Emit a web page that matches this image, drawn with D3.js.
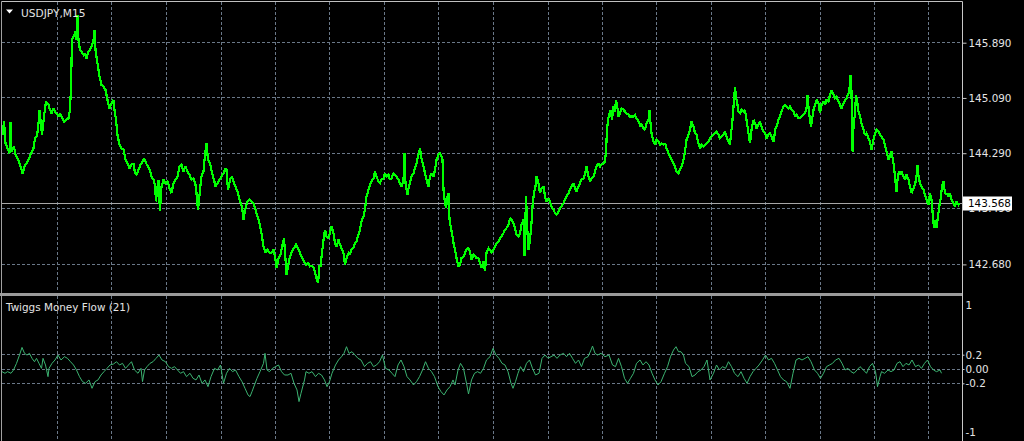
<!DOCTYPE html>
<html><head><meta charset="utf-8">
<script src="https://cdn.jsdelivr.net/npm/d3@7"></script>
<style>html,body{margin:0;padding:0;background:#000;overflow:hidden}</style>
</head><body><svg id="c" width="1024" height="441"></svg>
<script>
const symbolTitle = "USDJPY,M15";
const indicatorTitle = "Twiggs Money Flow (21)";
const priceTicks = [145.890, 145.090, 144.290, 143.490, 142.680];
const lastPrice = 143.568;
const tmfGridLevels = [0.2, 0, -0.2];
const tmfTickValues = [1, 0.2, 0, -0.2, -1];
const tmfTickLabels = ["1", "0.2", "0.00", "-0.2", "-1"];
const timeGridBars = [115, 223, 333, 442, 551, 659, 769, 877, 987, 1096, 1205, 1313, 1422, 1531, 1640, 1749, 1857];

// [bar (half-pixel M15 units), close]
const priceSeg1 = [[5,144.555],[8,144.748],[11,144.435],[15,144.363],[19,144.290],[21,144.748],[23,144.315],[28,144.387],[31,144.266],[35,144.218],[39,144.146],[43,144.049],[45,143.992],[49,144.098],[53,144.146],[57,144.194],[61,144.266],[67,144.363],[70,144.507],[73,144.531],[76,144.628],[79,144.917],[81,144.772],[84,144.555],[88,144.821],[92,145.037],[97,144.989],[100,144.917],[103,144.869],[107,144.941],[110,144.893],[113,144.869],[117,144.821],[120,144.869],[123,144.821],[128,144.748],[132,144.772],[137,144.796],[140,144.917],[142,145.254],[144,145.929],[147,145.977],[151,146.049],[153,145.929],[155,146.290],[157,145.929],[160,145.784],[163,145.760],[167,145.712],[170,145.736],[173,145.664],[177,145.760],[180,145.784],[184,145.857],[187,145.929],[189,146.073],[191,145.784],[195,145.592],[199,145.399],[203,145.278],[207,145.254],[211,145.206],[215,145.061],[219,144.941],[223,145.013],[227,145.061],[229,144.917],[232,144.772],[235,144.555],[239,144.411],[243,144.363],[247,144.339],[251,144.194],[255,144.146],[259,144.074],[263,144.122],[267,144.146],[270,144.001],[273,143.977],[277,144.049],[281,144.122],[285,144.170],[288,144.218],[292,144.146],[296,144.098],[300,144.049],[303,143.953],[307,143.905],[310,143.833],[312,143.592],[315,143.809],[317,143.905],[320,143.447],[323,143.809],[327,143.905],[331,143.857],[335,143.881],[339,143.784],[343,143.712],[347,143.857],[351,143.905],[355,143.953],[359,144.098],[363,144.122],[367,144.025],[371,144.098],[375,144.025],[379,143.977],[383,143.905],[387,143.929],[391,143.833],[393,143.712],[396,143.471],[399,143.688],[403,143.953],[407,144.025],[409,144.194],[412,144.387],[413,144.435],[416,144.194],[420,144.146],[424,144.001],[428,143.905],[431,143.809],[435,143.857],[439,143.905],[443,143.953],[447,144.001],[451,144.074],[453,144.049],[456,143.760],[460,143.905],[464,143.953],[468,143.857],[472,143.784],[476,143.712],[480,143.592],[484,143.519],[487,143.327],[491,143.495],[495,143.592],[499,143.616],[503,143.592],[507,143.568],[511,143.471],[515,143.375],[519,143.278],[523,143.134],[527,142.941],[531,142.845],[535,142.893],[539,142.845],[543,142.845],[547,142.893],[551,142.748],[553,142.628],[557,142.772],[561,142.821],[565,142.965],[568,143.062],[571,142.748],[573,142.531],[576,142.652],[580,142.796],[584,142.869],[588,142.917],[592,142.965],[596,142.917],[600,142.845],[604,142.772],[608,142.724],[612,142.676],[616,142.700],[620,142.652],[624,142.662],[628,142.628],[632,142.507],[636,142.410],[639,142.652]];
const priceSeg2 = [[641,142.652],[644,142.845],[647,143.037],[650,143.182],[653,143.086],[657,143.062],[660,143.134],[663,143.230],[667,143.134],[670,142.989],[673,142.941],[677,143.037],[680,142.965],[683,142.917],[687,142.845],[690,142.676],[693,142.772],[697,142.845],[700,142.821],[703,142.893],[707,142.917],[710,142.989],[713,143.013],[717,143.110],[720,143.182],[723,143.302],[727,143.375],[730,143.471],[733,143.664],[737,143.760],[740,143.833],[743,143.881],[747,143.929],[750,144.025],[753,143.953],[757,143.881],[760,143.857],[763,143.905],[767,143.929],[770,144.001],[773,143.953],[777,143.977],[780,143.905],[783,143.929],[787,144.001],[790,143.977],[793,143.953],[797,143.905],[800,143.857],[803,143.809],[807,143.905],[809,144.290],[811,143.857],[815,143.688],[817,143.784],[820,143.857],[823,143.953],[827,144.001],[830,144.074],[833,144.146],[837,144.266],[840,144.363],[843,144.218],[847,144.098],[850,144.001],[853,143.905],[857,143.809],[860,143.953],[863,144.001],[867,143.953],[870,144.049],[873,144.194],[877,144.266],[880,144.290],[883,144.242],[885,144.194],[887,143.760],[890,143.568],[892,143.495],[895,143.664],[897,143.712],[899,143.327],[902,143.206],[905,143.086],[907,142.989],[910,142.893],[913,142.772],[917,142.652],[920,142.676],[923,142.772],[927,142.796],[930,142.845],[933,142.893],[937,142.917],[940,142.869],[943,142.748],[947,142.821],[950,142.796],[953,142.772],[957,142.772],[960,142.700],[963,142.628],[967,142.724],[970,142.580],[973,142.845],[977,142.917],[980,142.893],[983,142.845],[987,142.893],[990,142.941],[993,142.989],[997,143.013],[1000,143.062],[1003,143.086],[1007,143.134],[1010,143.182],[1013,143.206],[1017,143.254],[1020,143.351],[1023,143.327],[1027,143.278],[1030,143.206],[1033,143.110],[1037,143.086],[1040,143.134],[1043,143.254],[1047,143.327],[1049,142.796],[1052,143.664],[1055,143.134],[1057,142.893],[1060,143.037],[1063,143.278],[1065,143.519],[1068,143.712],[1071,143.809],[1073,143.953],[1077,143.857],[1080,143.712],[1083,143.784],[1087,143.809],[1090,143.664],[1093,143.592],[1097,143.640],[1100,143.592],[1103,143.519],[1107,143.471],[1110,143.423],[1113,143.399],[1117,143.447],[1120,143.495],[1123,143.519],[1127,143.568],[1130,143.616],[1133,143.664],[1137,143.712],[1140,143.760],[1143,143.809],[1147,143.857],[1150,143.784],[1153,143.736],[1157,143.809],[1160,143.857],[1163,143.905],[1167,143.929],[1170,143.977],[1173,144.098],[1177,143.953],[1180,143.881],[1183,143.929],[1187,143.953],[1190,144.025],[1193,144.098],[1197,144.146],[1200,144.098],[1203,144.122],[1207,144.146],[1210,144.170],[1212,144.315],[1214,144.628],[1216,144.772],[1219,144.869],[1221,144.917],[1224,144.772],[1227,144.965],[1230,144.893],[1232,145.061],[1235,144.941],[1237,144.821],[1240,144.869],[1243,144.941],[1247,144.917],[1250,144.893],[1253,144.869],[1257,144.845],[1260,144.821],[1263,144.821],[1267,144.821],[1270,144.845],[1273,144.796],[1277,144.748],[1279,144.724]];
const priceSeg3 = [[1280,144.676],[1283,144.700],[1287,144.652],[1290,144.628],[1293,144.724],[1297,144.772],[1299,144.917],[1301,144.724],[1303,144.580],[1307,144.459],[1310,144.411],[1313,144.483],[1317,144.459],[1320,144.411],[1323,144.435],[1327,144.411],[1330,144.435],[1333,144.363],[1337,144.290],[1340,144.242],[1343,144.194],[1347,144.146],[1350,144.098],[1353,144.025],[1357,144.001],[1360,144.049],[1363,144.098],[1367,144.194],[1370,144.315],[1373,144.483],[1377,144.555],[1380,144.628],[1383,144.748],[1387,144.676],[1390,144.580],[1393,144.555],[1397,144.435],[1400,144.363],[1403,144.411],[1407,144.387],[1410,144.411],[1413,144.435],[1417,144.459],[1420,144.507],[1423,144.531],[1427,144.555],[1430,144.580],[1433,144.604],[1437,144.555],[1440,144.507],[1443,144.531],[1447,144.555],[1450,144.604],[1453,144.531],[1457,144.459],[1460,144.411],[1462,144.580],[1464,144.676],[1467,144.965],[1470,145.254],[1472,145.110],[1475,144.989],[1477,144.893],[1480,144.869],[1483,144.917],[1487,144.893],[1490,144.917],[1493,144.772],[1497,144.580],[1500,144.435],[1503,144.628],[1507,144.772],[1510,144.724],[1513,144.652],[1517,144.700],[1520,144.748],[1523,144.676],[1527,144.604],[1530,144.580],[1533,144.507],[1537,144.555],[1540,144.580],[1543,144.531],[1547,144.459],[1549,144.555],[1551,144.652],[1553,144.676],[1557,144.772],[1560,144.821],[1563,144.893],[1567,144.965],[1570,144.989],[1573,144.965],[1577,144.941],[1580,144.965],[1583,144.917],[1587,144.893],[1590,144.821],[1593,144.845],[1597,144.796],[1600,144.796],[1603,144.821],[1607,144.845],[1610,144.869],[1613,144.941],[1615,145.134],[1617,144.965],[1620,144.772],[1622,144.676],[1625,144.821],[1627,144.917],[1630,144.989],[1633,145.061],[1637,145.013],[1640,144.869],[1643,144.989],[1647,145.037],[1650,144.989],[1653,145.061],[1657,145.037],[1660,145.134],[1663,145.206],[1667,145.134],[1670,145.086],[1673,145.110],[1677,145.037],[1680,144.989],[1683,144.941],[1687,145.013],[1690,145.061],[1693,145.086],[1697,145.158],[1699,145.230],[1701,145.423],[1703,145.182],[1705,144.315],[1707,144.676],[1710,144.869],[1712,145.134],[1715,145.013],[1717,144.893],[1720,144.821],[1723,144.724],[1727,144.628],[1730,144.555],[1733,144.580],[1737,144.507],[1740,144.459],[1743,144.339],[1747,144.483],[1750,144.580],[1753,144.628],[1757,144.604],[1760,144.555],[1763,144.531],[1767,144.483],[1770,144.411],[1773,144.315],[1777,144.194],[1780,144.242],[1783,144.315],[1787,144.146],[1790,143.953],[1793,143.736],[1795,143.905],[1798,144.025],[1801,143.977],[1803,144.025],[1807,143.953],[1810,143.905],[1813,143.977],[1817,143.905],[1820,143.809],[1823,143.712],[1827,143.784],[1830,143.833],[1833,143.953],[1835,144.122],[1837,143.953],[1840,143.857],[1843,143.809],[1847,143.760],[1850,143.688],[1853,143.616],[1857,143.543],[1860,143.712],[1863,143.616],[1865,143.447],[1868,143.206],[1871,143.327],[1873,143.206],[1876,143.375],[1879,143.543],[1881,143.616],[1884,143.809],[1887,143.881],[1889,143.760],[1892,143.688],[1895,143.712],[1897,143.664],[1900,143.712],[1903,143.616],[1907,143.568],[1910,143.519],[1913,143.592],[1917,143.543],[1919,143.568]];

// [bar, Twiggs Money Flow value]
const tmfSeg1 = [[4,-0.037],[10,-0.060],[15,-0.037],[22,-0.060],[27,-0.014],[33,0.079],[39,0.195],[44,0.302],[49,0.219],[54,0.195],[59,0.219],[64,0.149],[69,0.102],[73,0.149],[78,0.079],[83,0.009],[86,0.149],[91,0.056],[96,-0.107],[98,0.009],[104,0.079],[110,0.126],[116,0.195],[122,0.126],[129,0.172],[135,0.149],[141,0.102],[147,0.056],[153,-0.014],[159,-0.107],[165,-0.177],[171,-0.200],[178,-0.153],[184,-0.270],[190,-0.177],[196,-0.153],[202,-0.084],[208,-0.037],[214,0.009],[220,0.056],[227,0.070],[233,0.102],[239,0.056],[245,0.079],[251,0.009],[257,0.056],[263,0.102],[269,-0.014],[276,-0.060],[282,0.009],[285,-0.177],[289,-0.014],[294,0.033],[300,0.079],[306,0.102],[312,0.149],[318,0.195],[324,0.126],[331,0.102],[337,0.033],[343,0.009],[349,0.033],[355,-0.014],[361,-0.060],[367,-0.037],[373,-0.107],[380,-0.060],[386,-0.130],[392,-0.153],[398,-0.084],[404,-0.200],[410,-0.153],[416,-0.247],[422,-0.107],[429,0.009],[435,-0.014],[441,0.056],[447,-0.200],[453,-0.060],[459,0.009],[465,-0.037],[471,-0.014],[478,-0.107],[484,-0.177],[490,-0.270],[496,-0.363],[500,-0.386],[504,-0.316],[509,-0.223],[514,-0.130],[520,-0.037],[527,0.079],[530,0.219],[534,-0.014],[539,-0.037],[545,0.009],[551,0.033],[557,0.056],[563,-0.037],[569,-0.084],[576,-0.084],[582,-0.060],[588,-0.200],[594,-0.293],[598,-0.456],[602,-0.340],[609,-0.153],[612,-0.037],[618,-0.060],[624,-0.037],[631,-0.107],[637,-0.060],[643,-0.084],[649,-0.153],[654,-0.247],[659,-0.177],[664,-0.060],[671,0.056],[677,0.126],[683,0.172],[688,0.219],[693,0.312],[698,0.219],[704,0.242],[710,0.195],[716,0.149],[722,0.126],[729,0.033],[735,0.079],[741,0.102],[747,0.033],[753,0.056],[759,0.102],[765,0.195],[771,0.009],[778,-0.014],[784,-0.060],[790,-0.107],[796,0.056],[802,0.126],[808,0.033],[814,-0.107],[820,-0.153],[827,-0.223],[833,-0.177],[839,-0.107],[845,-0.014],[851,0.102],[857,0.009],[863,-0.037],[869,-0.107],[876,-0.247],[882,-0.316],[888,-0.363],[894,-0.293],[900,-0.247],[906,-0.153],[910,-0.223],[916,-0.014],[921,0.079],[927,0.009],[933,-0.200],[937,-0.349],[943,-0.153],[949,-0.060]];
const tmfSeg2 = [[955,-0.037],[961,-0.060],[967,0.009],[973,0.126],[980,0.172],[986,0.288],[992,0.195],[998,0.149],[1004,0.079],[1010,0.056],[1016,-0.037],[1022,-0.200],[1026,-0.270],[1031,-0.177],[1036,-0.060],[1041,0.033],[1047,-0.037],[1053,0.079],[1059,0.126],[1065,0.009],[1071,-0.084],[1078,-0.060],[1084,0.149],[1090,0.195],[1096,0.149],[1102,0.172],[1108,0.195],[1114,0.149],[1120,0.195],[1127,0.219],[1133,0.172],[1139,0.219],[1145,0.149],[1151,0.079],[1157,0.126],[1163,0.033],[1169,0.149],[1176,0.172],[1182,0.265],[1185,0.321],[1190,0.219],[1195,0.195],[1202,0.219],[1210,0.172],[1218,0.195],[1225,0.056],[1231,0.033],[1237,0.149],[1243,0.033],[1249,-0.130],[1255,-0.200],[1261,-0.130],[1267,-0.060],[1273,0.079],[1280,0.126],[1286,0.056],[1292,0.102],[1298,0.056],[1304,-0.060],[1310,-0.153],[1316,-0.223],[1322,-0.177],[1329,-0.060],[1335,0.033],[1341,0.172],[1347,0.265],[1352,0.312],[1357,0.242],[1362,0.242],[1367,0.195],[1371,0.079],[1378,0.033],[1384,-0.107],[1390,-0.084],[1396,-0.037],[1402,-0.014],[1408,0.033],[1414,0.126],[1420,-0.153],[1427,-0.060],[1433,0.056],[1439,-0.014],[1445,0.033],[1451,0.009],[1457,0.102],[1463,0.033],[1469,-0.060],[1476,-0.107],[1482,-0.037],[1488,-0.130],[1494,-0.200],[1500,-0.107],[1506,-0.037],[1512,0.009],[1518,0.056],[1525,0.126],[1531,0.195],[1537,0.126],[1543,0.149],[1549,0.079],[1555,-0.014],[1561,-0.107],[1567,-0.153],[1573,-0.177],[1580,-0.270],[1586,-0.060],[1592,0.126],[1598,0.149],[1604,0.126],[1610,0.149],[1616,0.172],[1622,0.102],[1629,-0.014],[1635,-0.060],[1641,-0.130],[1647,-0.060],[1653,0.033],[1659,0.056],[1665,0.079],[1671,0.126],[1678,0.149],[1684,0.079],[1690,-0.014],[1696,0.009],[1702,-0.037],[1708,-0.060],[1714,-0.014],[1720,0.033],[1727,-0.014],[1733,-0.060],[1739,0.033],[1745,0.079],[1751,-0.037],[1755,-0.247],[1760,-0.107],[1763,-0.037],[1769,-0.060],[1776,-0.014],[1782,-0.037],[1788,-0.014],[1794,0.079],[1800,0.102],[1806,0.033],[1812,0.079],[1818,0.056],[1824,0.126],[1831,0.033],[1837,0.056],[1843,0.009],[1849,0.079],[1855,0.126],[1861,0.033],[1867,-0.014],[1873,-0.037],[1880,-0.014],[1883,-0.060]];

const W = 1024, H = 441;
const plotL = 2, plotR = 962;
const mainTop = 2, mainBot = 292;
const subTop = 296, subBot = 441;
const FONT = "'DejaVu Sans', Verdana, sans-serif";
const TXT = "#e4e4e4";
const GRID = "#6a7888";

const svg = d3.select("#c");
svg.append("rect").attr("width", W).attr("height", H).attr("fill", "#000");

const x = d3.scaleLinear().domain([0, 1920]).range([0, 960]);
const yP = d3.scaleLinear().domain([142.68, 145.89]).range([264.4, 42.7]);
const yT = d3.scaleLinear().domain([-0.2, 0.2]).range([383.3, 354.7]);
const crisp = v => Math.floor(v) + 0.5;

const defs = svg.append("defs");
defs.append("clipPath").attr("id", "clipMain").append("rect")
  .attr("x", plotL).attr("y", mainTop).attr("width", plotR - plotL).attr("height", mainBot - mainTop);
defs.append("clipPath").attr("id", "clipSub").append("rect")
  .attr("x", plotL).attr("y", subTop).attr("width", plotR - plotL).attr("height", subBot - subTop);

// grid
const grid = svg.append("g").attr("stroke", GRID).attr("stroke-width", 1).attr("stroke-dasharray", "3,2").attr("fill", "none");
timeGridBars.forEach(b => {
  const xx = crisp(x(b));
  grid.append("line").attr("x1", xx).attr("x2", xx).attr("y1", mainTop).attr("y2", mainBot);
  grid.append("line").attr("x1", xx).attr("x2", xx).attr("y1", subTop).attr("y2", subBot);
});
priceTicks.forEach(p => {
  const yy = crisp(yP(p));
  grid.append("line").attr("x1", plotL).attr("x2", plotR).attr("y1", yy).attr("y2", yy);
});
tmfGridLevels.forEach(v => {
  const yy = crisp(yT(v));
  grid.append("line").attr("x1", plotL).attr("x2", plotR).attr("y1", yy).attr("y2", yy);
});

// current price line
svg.append("line").attr("x1", plotL).attr("x2", plotR)
  .attr("y1", crisp(yP(lastPrice))).attr("y2", crisp(yP(lastPrice)))
  .attr("stroke", "#a8a8a8").attr("stroke-width", 1);

// price line
const priceData = priceSeg1.concat(priceSeg2, priceSeg3);
const pLine = d3.line().x(d => x(d[0])).y(d => yP(d[1]));
svg.append("path").datum(priceData).attr("clip-path", "url(#clipMain)")
  .attr("d", pLine).attr("fill", "none").attr("stroke", "#00ff00")
  .attr("stroke-width", 2.2).attr("stroke-linejoin", "miter").attr("stroke-miterlimit", 2)
  .attr("shape-rendering", "crispEdges");

// TMF line
const tmfData = tmfSeg1.concat(tmfSeg2);
const tLine = d3.line().x(d => x(d[0])).y(d => yT(d[1]));
svg.append("path").datum(tmfData).attr("clip-path", "url(#clipSub)")
  .attr("d", tLine).attr("fill", "none").attr("stroke", "#3cb371").attr("stroke-width", 1);

// frame & separator
svg.append("rect").attr("x", 0).attr("y", mainBot + 1).attr("width", plotR).attr("height", 3).attr("fill", "#9a9a9a");
svg.append("line").attr("x1", 1.5).attr("x2", 1.5).attr("y1", 1.5).attr("y2", H).attr("stroke", "#a0a0a0");
svg.append("line").attr("x1", 1.5).attr("x2", plotR + 0.5).attr("y1", 1.5).attr("y2", 1.5).attr("stroke", "#c0c0c0");
svg.append("line").attr("x1", plotR + 0.5).attr("x2", plotR + 0.5).attr("y1", 1.5).attr("y2", H).attr("stroke", "#c8c8c8");

// price axis
const axP = svg.append("g").attr("transform", `translate(${plotR + 0.5},0)`)
  .call(d3.axisRight(yP).tickValues(priceTicks).tickFormat(d3.format(".3f")).tickSize(4).tickPadding(2));
axP.select(".domain").remove();
axP.selectAll(".tick line").attr("stroke", "#c8c8c8");
axP.selectAll(".tick text").attr("fill", TXT).style("font", `10.4px ${FONT}`);

// last price label (drawn over the partly hidden 143.490 label, as in the terminal)
const ly = yP(lastPrice);
svg.append("rect").attr("x", 963).attr("y", Math.round(ly) - 6.5).attr("width", 49).attr("height", 14).attr("fill", "#ffffff");
svg.append("text").attr("x", 968).attr("y", ly).attr("dy", "0.36em").attr("fill", "#000")
  .style("font", `10.4px ${FONT}`).text(d3.format(".3f")(lastPrice));

// TMF axis
const axT = svg.append("g").attr("transform", `translate(${plotR + 0.5},0)`)
  .call(d3.axisRight(yT).tickValues(tmfTickValues).tickFormat((d, i) => tmfTickLabels[i]).tickSize(2).tickPadding(1));
axT.select(".domain").remove();
axT.selectAll(".tick line").attr("stroke", "#c8c8c8").attr("display", d => Math.abs(d) === 1 ? "none" : null);
axT.selectAll(".tick text").attr("fill", TXT).style("font", `10.4px ${FONT}`)
  .attr("y", d => d === 1 ? 8 : d === -1 ? -8 : 0);

// titles
svg.append("path").attr("d", "M6,9.5L13,9.5L9.5,13.5Z").attr("fill", "#ffffff");
svg.append("text").attr("x", 21).attr("y", 13).attr("dy", "0.36em").attr("fill", TXT)
  .style("font", `10.6px ${FONT}`).text(symbolTitle);
svg.append("text").attr("x", 6).attr("y", 307).attr("dy", "0.36em").attr("fill", TXT)
  .style("font", `10.4px ${FONT}`).text(indicatorTitle);
</script></body></html>
